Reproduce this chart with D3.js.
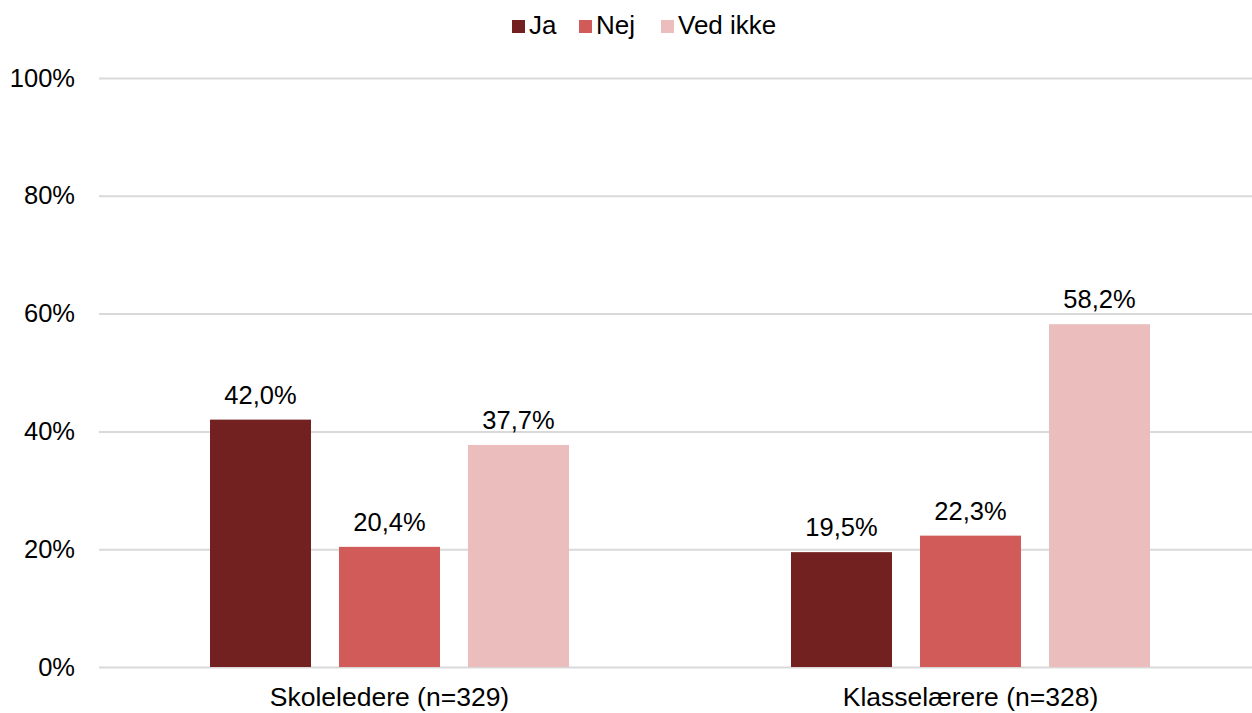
<!DOCTYPE html>
<html>
<head>
<meta charset="utf-8">
<script src="https://cdn.jsdelivr.net/npm/d3@7"></script>
<style>
  body { margin: 0; background: #fff; }
  text { font-family: "Liberation Sans", Arial, sans-serif; fill: #000; }
</style>
</head>
<body>
<div id="chart"></div>
<script>
// data
var groups = ['Skoleledere (n=329)', 'Klasselærere (n=328)'];
var series = ['Ja', 'Nej', 'Ved ikke'];
var colors = ['#722120', '#d15b58', '#ecbdbd'];
var ja = [42.0, 19.5];
var nej = [20.4, 22.3];
var vedIkke = [37.7, 58.2];
var yTicks = [0, 20, 40, 60, 80, 100];

var values = [ja, nej, vedIkke];

var W = 1252, H = 713;
var margin = {top: 78, right: -9, bottom: 46, left: 99};
var width = W - margin.left - margin.right;
var height = H - margin.top - margin.bottom;
var fs = '25.5px';

var svg = d3.select('#chart').append('svg')
  .attr('width', W)
  .attr('height', H);

var g = svg.append('g')
  .attr('transform', 'translate(' + margin.left + ',' + margin.top + ')');

var x0 = d3.scaleBand().domain(groups).range([0, width]);
var x1 = d3.scaleBand().domain(series).range([0, 359]).paddingInner(0.217).paddingOuter(0);
var y = d3.scaleLinear().domain([0, 100]).range([height, 0]);

// gridlines
g.append('g')
  .attr('class', 'grid')
  .call(d3.axisLeft(y).tickValues(yTicks).tickSize(-width).tickFormat(''))
  .call(function(s) {
    s.select('.domain').remove();
    s.selectAll('line').attr('stroke', '#d9d9d9').attr('stroke-width', 2);
  });

// y labels
g.append('g')
  .call(d3.axisLeft(y).tickValues(yTicks).tickSize(0).tickPadding(24).tickFormat(function(d){ return d + '%'; }))
  .call(function(s) {
    s.select('.domain').remove();
    s.selectAll('text').style('font-size', fs).style('font-family', '"Liberation Sans", Arial, sans-serif');
  });

// x labels
g.append('g')
  .attr('transform', 'translate(0,' + height + ')')
  .call(d3.axisBottom(x0).tickSize(0).tickPadding(20))
  .call(function(s) {
    s.select('.domain').remove();
    s.selectAll('text').style('font-size', '26.5px').style('font-family', '"Liberation Sans", Arial, sans-serif');
  });

var fmt = function(v) { return v.toFixed(1).replace('.', ',') + '%'; };

var grp = g.selectAll('.grp')
  .data(groups)
  .enter().append('g')
  .attr('class', 'grp')
  .attr('transform', function(d) { return 'translate(' + (x0(d) + (x0.bandwidth() - 359) / 2) + ',0)'; });

grp.selectAll('rect')
  .data(function(d, i) { return series.map(function(s, j) { return {s: s, v: values[j][i], c: colors[j]}; }); })
  .enter().append('rect')
  .attr('x', function(d) { return x1(d.s); })
  .attr('width', x1.bandwidth())
  .attr('y', function(d) { return y(d.v); })
  .attr('height', function(d) { return height - y(d.v); })
  .attr('fill', function(d) { return d.c; });

grp.selectAll('.lbl')
  .data(function(d, i) { return series.map(function(s, j) { return {s: s, v: values[j][i]}; }); })
  .enter().append('text')
  .attr('class', 'lbl')
  .attr('x', function(d) { return x1(d.s) + x1.bandwidth() / 2; })
  .attr('y', function(d) { return y(d.v) - 16; })
  .attr('text-anchor', 'middle')
  .style('font-size', fs)
  .text(function(d) { return fmt(d.v); });

// legend
var legX = [512, 579, 661];
var leg = svg.append('g');
series.forEach(function(s, i) {
  leg.append('rect')
    .attr('x', legX[i]).attr('y', 20)
    .attr('width', 13).attr('height', 13)
    .attr('fill', colors[i]);
  leg.append('text')
    .attr('x', legX[i] + 17).attr('y', 34)
    .style('font-size', '26px')
    .text(s);
});
</script>
</body>
</html>
